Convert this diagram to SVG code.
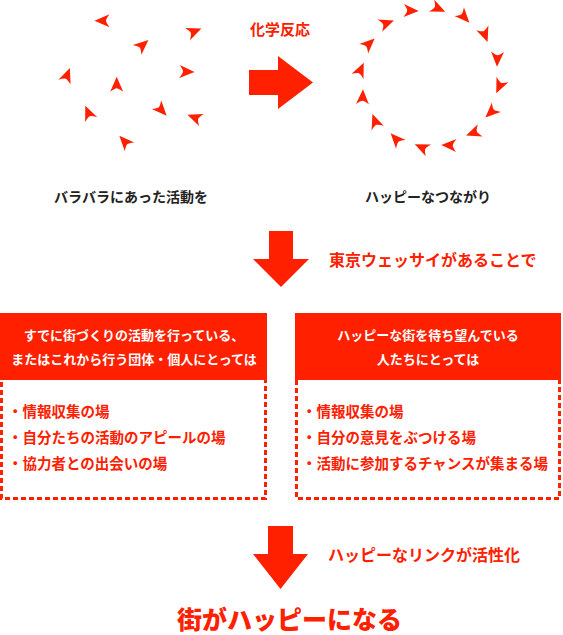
<svg xmlns="http://www.w3.org/2000/svg" width="563" height="635" viewBox="0 0 563 635">
<style>
text{font-family:"Noto Sans CJK JP","Noto Sans CJK SC",sans-serif;font-weight:700}
.red{fill:#ff2000}
.cap{fill:#222;font-size:14px}
.hd{fill:#fff;font-size:13px}
.bl{fill:#ff2000;font-size:14.5px}
.lbl{fill:#ff2000;font-size:16px}
.dash{fill:#fff;stroke:#ff2000;stroke-width:3;stroke-dasharray:5 3}
</style>
<defs>
<path id="ah" d="M8,0 L-7,-6.5 Q-3.5,-1.8 -3.5,0 Q-3.5,1.8 -7,6.5 Z" fill="#ff2000"/>
</defs>

<g id="scattered">
<use href="#ah" transform="translate(102.5 20.7) rotate(180)"/>
<use href="#ah" transform="translate(194 31.5) rotate(-22)"/>
<use href="#ah" transform="translate(142.4 45.2) rotate(-41)"/>
<use href="#ah" transform="translate(67 75.5) rotate(-69)"/>
<use href="#ah" transform="translate(116.7 84.7) rotate(-90)"/>
<use href="#ah" transform="translate(186.5 71.7) rotate(2)"/>
<use href="#ah" transform="translate(88.4 113.1) rotate(-113)"/>
<use href="#ah" transform="translate(161.2 109.8) rotate(47)"/>
<use href="#ah" transform="translate(194.9 117.5) rotate(-159)"/>
<use href="#ah" transform="translate(124.8 141.7) rotate(-133)"/>
</g>

<g id="circle" transform="translate(430 78)">
<use href="#ah" transform="rotate(-106) translate(70 0) rotate(108)"/>
<use href="#ah" transform="rotate(-83.5) translate(70 0) rotate(108)"/>
<use href="#ah" transform="rotate(-61) translate(70 0) rotate(108)"/>
<use href="#ah" transform="rotate(-38.5) translate(70 0) rotate(108)"/>
<use href="#ah" transform="rotate(-16) translate(70 0) rotate(108)"/>
<use href="#ah" transform="rotate(6.5) translate(70 0) rotate(108)"/>
<use href="#ah" transform="rotate(29) translate(70 0) rotate(108)"/>
<use href="#ah" transform="rotate(51.5) translate(70 0) rotate(108)"/>
<use href="#ah" transform="rotate(74) translate(70 0) rotate(108)"/>
<use href="#ah" transform="rotate(96.5) translate(70 0) rotate(108)"/>
<use href="#ah" transform="rotate(119) translate(70 0) rotate(108)"/>
<use href="#ah" transform="rotate(141.5) translate(70 0) rotate(108)"/>
<use href="#ah" transform="rotate(164) translate(70 0) rotate(108)"/>
<use href="#ah" transform="rotate(186.5) translate(70 0) rotate(108)"/>
<use href="#ah" transform="rotate(209) translate(70 0) rotate(108)"/>
<use href="#ah" transform="rotate(231.5) translate(70 0) rotate(108)"/>
</g>

<g id="connectors">
<polygon class="red" points="249,70 278,70 278,56 313,82.5 278,109 278,95 249,95"/>
<polygon class="red" points="269,231 293,231 293,259 309,259 281,287 253,259 269,259"/>
<polygon class="red" points="268,526 293,526 293,554 308,554 280.5,589 253,554 268,554"/>
</g>

<g id="label-reaction"><text class="lbl" x="280" y="35" text-anchor="middle" style="font-size:15px">化学反応</text></g>
<g id="caption-left"><text class="cap" x="131" y="202" text-anchor="middle">バラバラにあった活動を</text></g>
<g id="caption-right"><text class="cap" x="428" y="202" text-anchor="middle">ハッピーなつながり</text></g>
<g id="label-tokyo"><text class="lbl" x="329" y="266">東京ウェッサイがあることで</text></g>

<g id="box-left">
<rect class="dash" x="1.5" y="378" width="264" height="120.5"/>
<rect class="red" x="0" y="313" width="267" height="67"/>
<text class="hd" x="134" y="340" text-anchor="middle">すでに街づくりの活動を行っている、</text>
<text class="hd" x="134" y="364" text-anchor="middle">またはこれから行う団体・個人にとっては</text>
<text class="bl" x="8" y="417">・情報収集の場</text>
<text class="bl" x="8" y="443">・自分たちの活動のアピールの場</text>
<text class="bl" x="8" y="469">・協力者との出会いの場</text>
</g>

<g id="box-right">
<rect class="dash" x="296.5" y="378" width="263" height="120.5"/>
<rect class="red" x="295" y="313" width="266" height="67"/>
<text class="hd" x="428" y="340" text-anchor="middle">ハッピーな街を待ち望んでいる</text>
<text class="hd" x="428" y="364" text-anchor="middle">人たちにとっては</text>
<text class="bl" x="302" y="417">・情報収集の場</text>
<text class="bl" x="302" y="443">・自分の意見をぶつける場</text>
<text class="bl" x="302" y="469">・活動に参加するチャンスが集まる場</text>
</g>

<g id="label-link"><text class="lbl" x="328" y="561">ハッピーなリンクが活性化</text></g>
<g id="result"><text class="red" x="177" y="629" style="font-size:25px;font-weight:900">街がハッピーになる</text></g>
</svg>
